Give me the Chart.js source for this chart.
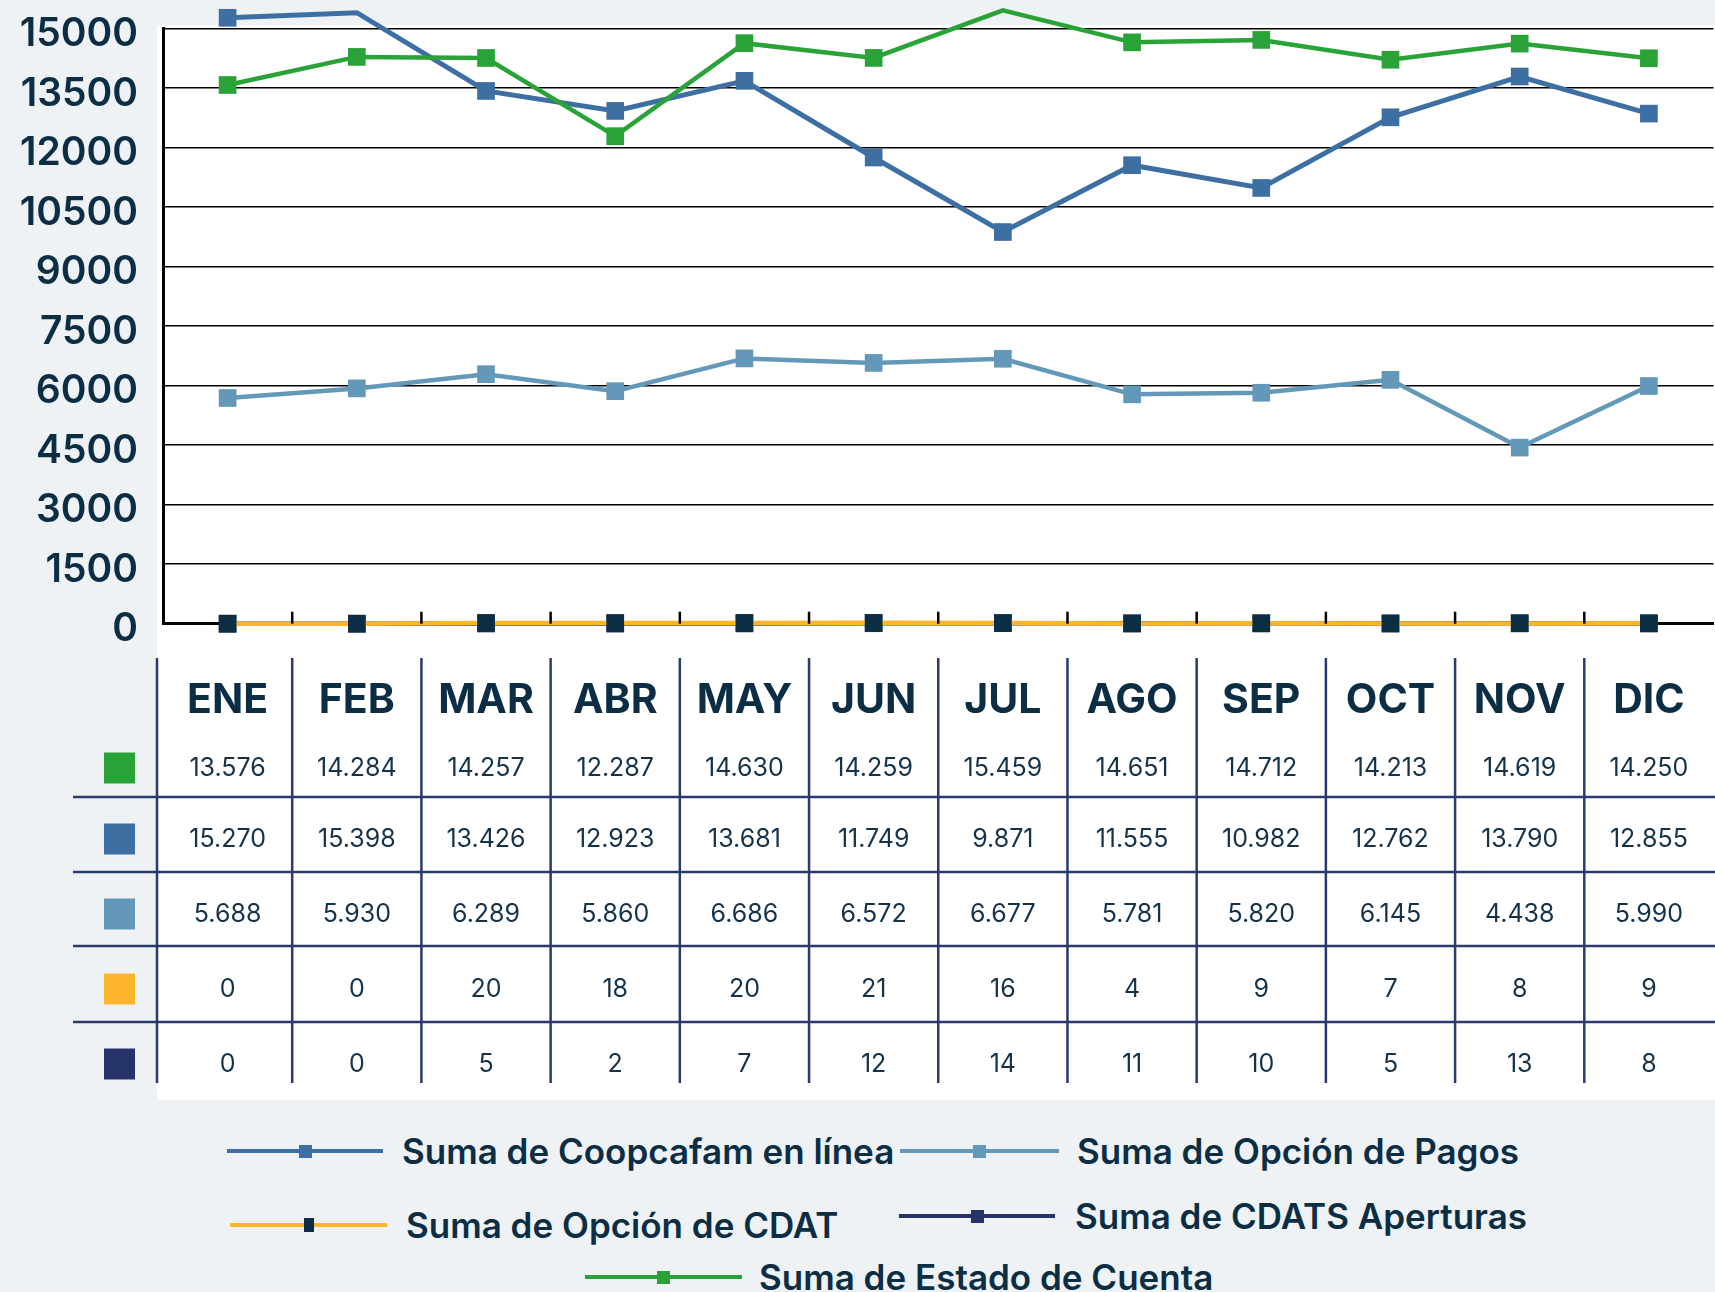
<!DOCTYPE html>
<html><head><meta charset="utf-8">
<script src="https://cdn.jsdelivr.net/npm/chart.js@4.4.0/dist/chart.umd.min.js"></script>
<style>
html,body{margin:0;padding:0;width:1715px;height:1292px;overflow:hidden;background:#eef2f5;}
#white{position:absolute;left:157px;top:25px;width:1558px;height:1075px;background:#ffffff;}
#wrap{position:absolute;left:0;top:0;width:1726px;height:1100px;}
.lg{position:absolute;height:0;}
.lg .ln{position:absolute;height:4px;top:-2px;}
.lg .mk{position:absolute;}
.lg .tx{position:absolute;white-space:nowrap;font-family:Inter,"Noto Sans",sans-serif;font-weight:600;font-size:35px;color:#0b2e45;line-height:40px;top:-20px;}
</style></head>
<body>
<div id="white"></div>
<div id="wrap"><canvas id="c" width="1726" height="1100"></canvas></div>
<div id="legend"></div>
<script>
const months = ['ENE','FEB','MAR','ABR','MAY','JUN','JUL','AGO','SEP','OCT','NOV','DIC'];
const coopcafamEnLinea = [15270,15398,13426,12923,13681,11749,9871,11555,10982,12762,13790,12855];
const opcionDePagos = [5688,5930,6289,5860,6686,6572,6677,5781,5820,6145,4438,5990];
const opcionDeCdat = [0,0,20,18,20,21,16,4,9,7,8,9];
const cdatsAperturas = [0,0,5,2,7,12,14,11,10,5,13,8];
const estadoDeCuenta = [13576,14284,14257,12287,14630,14259,15459,14651,14712,14213,14619,14250];
const yTickValues = [0,1500,3000,4500,6000,7500,9000,10500,12000,13500,15000];

const C = {
  blue:'#3e6fa3', light:'#6398b9', orange:'#fdb52c', navy:'#26346a', green:'#29a337', dark:'#0b2e45'
};

const datasets = [
  {label:'Suma de Coopcafam en línea', data:coopcafamEnLinea, borderColor:C.blue, pointBackgroundColor:C.blue, borderWidth:5, order:3},
  {label:'Suma de Opción de Pagos', data:opcionDePagos, borderColor:C.light, pointBackgroundColor:C.light, borderWidth:4.5, order:2},
  {label:'Suma de Opción de CDAT', data:opcionDeCdat, borderColor:C.orange, pointBackgroundColor:C.dark, borderWidth:4.5, order:0},
  {label:'Suma de CDATS Aperturas', data:cdatsAperturas, borderColor:C.navy, pointBackgroundColor:C.navy, borderWidth:4.5, order:1},
  {label:'Suma de Estado de Cuenta', data:estadoDeCuenta, borderColor:C.green, pointBackgroundColor:C.green, borderWidth:4.5, order:2.5}
].map(d => Object.assign(d, {pointStyle:'rect', pointRadius:12.5, pointHoverRadius:12.5, pointBorderWidth:0, tension:0, clip:false, fill:false}));

const tableRows = [
  {data:estadoDeCuenta, color:C.green},
  {data:coopcafamEnLinea, color:C.blue},
  {data:opcionDePagos, color:C.light},
  {data:opcionDeCdat, color:C.orange},
  {data:cdatsAperturas, color:C.navy}
];

function fmt(v){ return String(v).replace(/\B(?=(\d{3})+(?!\d))/g,'.'); }

const TOP = 28.5, BOTTOM = 623.7;

const tablePlugin = {
  id:'tablePlugin',
  afterDraw(chart){
    const ctx = chart.ctx, xs = chart.scales.x, area = chart.chartArea;
    const centers = months.map((m,i)=>xs.getPixelForValue(i));
    const half = (centers[1]-centers[0])/2;
    ctx.save();
    ctx.strokeStyle = '#000'; ctx.lineWidth = 2.5;
    for (let i=1;i<centers.length;i++){
      const x = centers[i]-half;
      ctx.beginPath(); ctx.moveTo(x, area.bottom); ctx.lineTo(x, area.bottom-12); ctx.stroke();
    }
    const bounds = [area.left-6].concat(centers.slice(1).map(c=>c-half));
    const tableTop = 658, tableBottom = 1083;
    const rowCenters = [767, 838, 913, 988, 1063];
    const seps = [797, 872, 946, 1022];
    ctx.strokeStyle = '#2b3a6d'; ctx.lineWidth = 2.5;
    bounds.forEach(x=>{ ctx.beginPath(); ctx.moveTo(x, tableTop); ctx.lineTo(x, tableBottom); ctx.stroke(); });
    seps.forEach(y=>{ ctx.beginPath(); ctx.moveTo(73, y); ctx.lineTo(1726, y); ctx.stroke(); });
    ctx.fillStyle = C.dark; ctx.textAlign = 'center'; ctx.textBaseline = 'middle';
    ctx.font = '700 41px Inter, "Noto Sans", sans-serif';
    months.forEach((m,i)=>ctx.fillText(m, centers[i], 701));
    ctx.font = '400 25px Inter, "Noto Sans", sans-serif';
    tableRows.forEach((r,ri)=>{
      ctx.fillStyle = r.color;
      ctx.fillRect(104, rowCenters[ri]-15.5+1, 31, 31);
      ctx.fillStyle = '#14334b';
      r.data.forEach((v,i)=>ctx.fillText(fmt(v), centers[i], rowCenters[ri]+1));
    });
    ctx.restore();
  }
};

const chart = new Chart(document.getElementById('c'), {
  type:'line',
  data:{labels:months, datasets},
  options:{
    responsive:false, animation:false, devicePixelRatio:1,
    layout:{padding:{top:TOP, bottom:1100-BOTTOM, left:0, right:0}},
    plugins:{legend:{display:false}, tooltip:{enabled:false}},
    scales:{
      x:{type:'category', offset:true,
         ticks:{display:false}, grid:{display:false, drawTicks:false},
         border:{display:true, color:'#000', width:3},
         afterFit(s){ s.height = 0; }},
      y:{min:0, max:15000,
         afterBuildTicks(s){ s.ticks = yTickValues.map(v=>({value:v})); },
         ticks:{color:C.dark, padding:25, labelOffset:6, callback:v=>String(v), font:{family:'Inter', size:39, weight:'600', lineHeight:0.5}},
         grid:{color:'#000', lineWidth:1.5, drawTicks:false},
         border:{display:true, color:'#000', width:3},
         afterFit(s){ s.width = 163; s.paddingTop = 0; s.paddingBottom = 0; }}
    }
  },
  plugins:[tablePlugin]
});
const pad = chart.options.layout.padding;
const dTop = chart.chartArea.top - TOP, dBot = BOTTOM - chart.chartArea.bottom;
if (Math.abs(dTop) > 0.5 || Math.abs(dBot) > 0.5) {
  pad.top = TOP - dTop;
  pad.bottom = (1100 - BOTTOM) - dBot;
  chart.update();
}

const legendLayout = [
  {x1:227, x2:383, y:1151, tx:402},
  {x1:900, x2:1059, y:1151, tx:1077},
  {x1:230, x2:387, y:1225, tx:406},
  {x1:899, x2:1055, y:1216, tx:1075},
  {x1:585, x2:742, y:1277, tx:759}
];
const lgRoot = document.getElementById('legend');
datasets.forEach((d,i)=>{
  const L = legendLayout[i];
  const it = document.createElement('div'); it.className='lg'; it.style.left='0px'; it.style.top=L.y+'px';
  const ln = document.createElement('div'); ln.className='ln'; ln.style.left=L.x1+'px'; ln.style.width=(L.x2-L.x1)+'px'; ln.style.background=d.borderColor;
  const mk = document.createElement('div'); mk.className='mk';
  const isCdat = d.pointBackgroundColor===C.dark;
  const mw = isCdat?10:13, mh = isCdat?14:13;
  mk.style.width=mw+'px'; mk.style.height=mh+'px'; mk.style.left=((L.x1+L.x2)/2-mw/2)+'px'; mk.style.top=(-mh/2)+'px'; mk.style.background=d.pointBackgroundColor;
  const tx = document.createElement('div'); tx.className='tx'; tx.style.left=L.tx+'px'; tx.textContent=d.label;
  it.appendChild(ln); it.appendChild(mk); it.appendChild(tx); lgRoot.appendChild(it);
});
</script>
</body></html>
